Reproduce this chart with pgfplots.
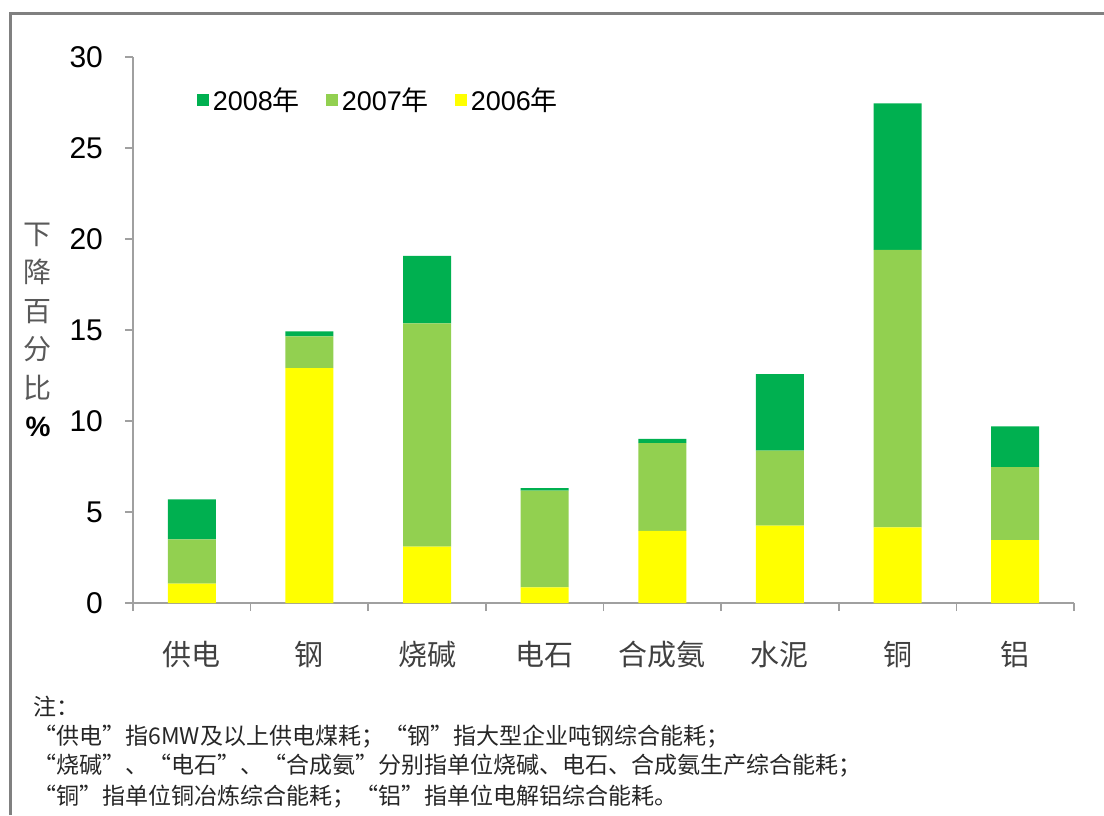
\documentclass[border=0pt]{standalone}
\usepackage{pgfplots}
\pgfplotsset{compat=1.18}
\usepackage{fontspec}
\setmainfont{Liberation Sans}
\newfontfamily\cjk{Noto Sans CJK SC}
\definecolor{dg}{HTML}{00B050}
\definecolor{lg}{HTML}{92D050}
\definecolor{yl}{HTML}{FFFF00}
\definecolor{axgray}{HTML}{A0A0A0}
\begin{document}
\begin{tikzpicture}
\useasboundingbox (0,0) rectangle (552pt,407.5pt);
\draw[color=black!50, line width=1.5pt] (5pt,0) -- (5pt,400.5pt) -- (552pt,400.5pt);
\begin{axis}[
 at={(66.5pt,106pt)}, anchor=south west,
 scale only axis, width=470.5pt, height=273pt,
 ybar stacked, bar width=24pt,
 xmin=-0.5, xmax=7.5, ymin=0, ymax=30,
 axis x line*=bottom, axis y line*=left,
 axis line style={axgray, line width=0.8pt},
 tick style={axgray, line width=0.8pt},
 tick align=outside,
 major tick length=4pt,
 xtick={-0.5,0.5,...,7.5}, xticklabels={},
 extra x ticks={0,1,2,3,4,5,6,7},
 extra x tick labels={供电,钢,烧碱,电石,合成氨,水泥,铜,铝},
 extra x tick style={major tick length=0pt, xticklabel style={font=\cjk\fontsize{14.5}{16}\selectfont, text=black!75, yshift=-15.5pt}},
 ytick={0,5,...,30},
 yticklabel style={font=\fontsize{15}{16}\selectfont, text=black, xshift=-7.5pt},
 /pgf/number format/assume math mode=true,
 ylabel={下\\降\\百\\分\\比\\\textcolor{black}{\rmfamily\bfseries\%}},
 ylabel style={rotate=-90, align=center, at={(axis description cs:-0.101,0.5)}, anchor=center, font=\cjk\fontsize{14}{19.25}\selectfont, text=black!65},
 legend style={at={(0.061,0.921)}, anchor=west, draw=none, fill=none, legend columns=3, font=\fontsize{13.5}{15}\selectfont, /tikz/every even column/.append style={column sep=11pt}},
 reverse legend,
 legend image code/.code={\draw[#1,draw=none] (0pt,-3pt) rectangle (6pt,3pt);},
]
\addplot[fill=yl, draw=none] coordinates {(0,1.06) (1,12.9) (2,3.1) (3,0.86) (4,3.96) (5,4.25) (6,4.15) (7,3.46)};
\addplot[fill=lg, draw=none] coordinates {(0,2.44) (1,1.75) (2,12.26) (3,5.32) (4,4.83) (5,4.12) (6,15.25) (7,4.0)};
\addplot[fill=dg, draw=none] coordinates {(0,2.19) (1,0.28) (2,3.71) (3,0.13) (4,0.23) (5,4.2) (6,8.05) (7,2.24)};
\legend{2006{\cjk 年},2007{\cjk 年},2008{\cjk 年}}
\end{axis}
\begin{scope}[every node/.style={anchor=base west, inner sep=0pt, font=\cjk\fontsize{11.5}{14}\selectfont, text=black!85}]
\node at (16.5pt,50pt) {注：};
\node at (16.5pt,35.5pt) {“供电”指6MW及以上供电煤耗；“钢”指大型企业吨钢综合能耗；};
\node at (16.5pt,21pt) {“烧碱”、“电石”、“合成氨”分别指单位烧碱、电石、合成氨生产综合能耗；};
\node at (16.5pt,5.5pt) {“铜”指单位铜冶炼综合能耗；“铝”指单位电解铝综合能耗。};
\end{scope}
\end{tikzpicture}
\end{document}
